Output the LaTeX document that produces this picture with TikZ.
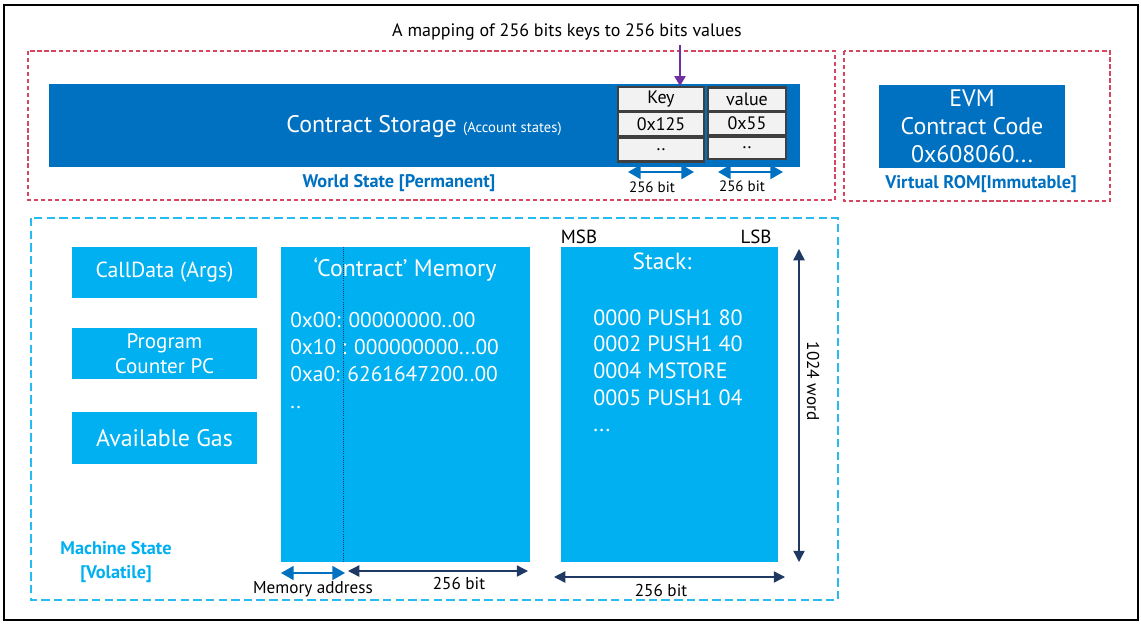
\documentclass[tikz,border=0pt]{standalone}
\usepackage{fontspec}
\setmainfont{PT Sans}
\usepackage{xcolor}
\usepackage{tikz}
\usetikzlibrary{arrows.meta,positioning}
\definecolor{blue2}{HTML}{0070C0}
\definecolor{cyan2}{HTML}{00B0F0}
\definecolor{navy2}{HTML}{1F3864}
\definecolor{red2}{HTML}{D6475F}
\definecolor{purple2}{HTML}{7030A0}
\definecolor{cellgray}{HTML}{F2F2F2}
\definecolor{cellline}{HTML}{3F3F3F}

\begin{document}
\begin{tikzpicture}[x=0.025cm,y=-0.025cm,
          every node/.style={font=\fontsize{12}{14}\selectfont},
          bigbox/.style={fill=blue2,text=white,inner sep=0pt},
          mbox/.style={fill=cyan2,text=white,inner sep=0pt,minimum width=4.625cm,
                       minimum height=1.275cm,align=center},
          cell/.style={draw=cellline,fill=cellgray,line width=1.5pt,inner sep=0pt,
                       minimum height=0.6cm,font=\fontsize{12.8}{14}\selectfont},
          redframe/.style={draw=red2,line width=0.8pt,dash pattern=on 3pt off 2pt},
          cyanframe/.style={draw=cyan2!85!white,line width=0.9pt,dash pattern=on 6pt off 3pt},
          bitarr/.style={{Triangle[length=9pt,width=10pt]}-{Triangle[length=9pt,width=10pt]},
                         draw=blue2,line width=1.4pt},
          navyarr/.style={{Triangle[length=8pt,width=8pt]}-{Triangle[length=8pt,width=8pt]},
                          draw=navy2,line width=1pt},
          small/.style={font=\fontsize{10.7}{12}\selectfont},
          lower/.style={font=\fontsize{12.2}{14}\selectfont},
          title/.style={font=\fontsize{13}{15}\selectfont\bfseries},
      ]
        \useasboundingbox (0,0) rectangle (1141,623);
        \draw[line width=2pt] (4,5) rectangle (1138,620);

        % world state and virtual ROM
        \draw[redframe] (28,51) rectangle (835,200);
        \draw[redframe] (844,51) rectangle (1110,201);
        \node[bigbox,minimum width=18.775cm,minimum height=2.075cm] (storage) at (424.5,125.5) {};
        \node[text=white,inner sep=0pt] (storagelbl) at (424,127)
          {\fontsize{17}{19}\selectfont Contract Storage \fontsize{10.4}{12}\selectfont(Account states)};
        \node[cell,minimum width=2.15cm] (key) at (661,99) {Key};
        \node[cell,minimum width=2.15cm] (keya) at (661,124) {0x125};
        \node[cell,minimum width=2.15cm] (keyb) at (661,149.5) {..};
        \node[cell,minimum width=1.95cm] (val) at (747,99.5) {value};
        \node[cell,minimum width=1.95cm] (vala) at (747,123.5) {0x55};
        \node[cell,minimum width=1.95cm,minimum height=0.55cm] (valb) at (747,148) {..};

        \node[font=\fontsize{12.8}{14}\selectfont] (mapping) at (567,32)
          {A mapping of 256 bits keys to 256 bits values};
        \coordinate (maptip) at (680,86);
        \draw[draw=purple2,line width=0.8pt,-{Triangle[length=7pt,width=8pt]}]
          (mapping.south -| maptip) -- (maptip);

        \coordinate (kl) at (628,172);
        \coordinate (kr) at (694,172);
        \coordinate (vl) at (718,172);
        \coordinate (vr) at (783,172);
        \draw[bitarr] (kl) -- (kr);
        \draw[bitarr] (vl) -- (vr);
        \node[small] (keybits) at (652,187) {256 bit};
        \node[small] (valbits) at (742,186) {256 bit};
        \node[title,text=blue2] (world) at (399,183) {World State [Permanent]};

        \node[bigbox,minimum width=4.65cm,minimum height=2.075cm,align=center,
              font=\fontsize{17}{19.8}\selectfont] (evm) at (972,126.5)
          {EVM\\Contract Code\\0x608060...};
        \node[title,text=blue2] (rom) at (981,184) {Virtual ROM[Immutable]};

        % machine state
        \draw[cyanframe] (31,218) rectangle (838,600);
        \node[mbox,font=\fontsize{15.5}{17}\selectfont] (calldata) at (164.5,272.5) {CallData (Args)};
        \node[mbox,font=\fontsize{15}{17.5}\selectfont] (pc) at (164.5,353.5) {Program\\Counter PC};
        \node[mbox,font=\fontsize{17}{19}\selectfont] (gas) at (164.5,438) {Available Gas};
        \node[title,text=cyan2,align=center,font=\fontsize{13}{17}\selectfont\bfseries] (machine)
          at (116,562) {Machine State\\{[Volatile]}};

        \node[fill=cyan2,inner sep=0pt,minimum width=6.225cm,minimum height=7.875cm] (memory)
          at (405.5,404.5) {};
        \node[text=white,font=\fontsize{17}{19}\selectfont] (memtitle) at (405,270)
          {‘Contract’ Memory};
        \node[text=white,anchor=north west,align=left,inner sep=0pt,
              font=\fontsize{15.2}{19.2}\selectfont] (memlines) at (290,312)
          {0x00: 00000000..00\\0x10 : 000000000...00\\0xa0: 6261647200..00\\..};
        \draw[navy2,densely dotted,line width=0.5pt] (memory.north -| 343,0) -- (memory.south -| 343,0);
        \coordinate (al) at (281,573);
        \coordinate (ar) at (345,573);
        \coordinate (ml) at (348,571);
        \coordinate (mr) at (528,571);
        \draw[bitarr,line width=1pt] (al) -- (ar);
        \draw[navyarr] (ml) -- (mr);
        \node[lower] (addr) at (313,589) {Memory address};
        \node[lower] (membits) at (459,583) {256 bit};

        \node[fill=cyan2,inner sep=0pt,minimum width=5.425cm,minimum height=7.875cm] (stack)
          at (669.5,404.5) {};
        \node[text=white,font=\fontsize{16.6}{18}\selectfont] (stacktitle) at (662,261) {Stack:};
        \node[text=white,anchor=north west,align=left,inner sep=0pt,
              font=\fontsize{15.7}{19}\selectfont] (stacklines) at (593,309)
          {0000 PUSH1 80\\0002 PUSH1 40\\0004 MSTORE\\0005 PUSH1 04\\...};
        \node[font=\fontsize{13.5}{15}\selectfont] (msb) at (579,237) {MSB};
        \node[font=\fontsize{13.5}{15}\selectfont] (lsb) at (756,237) {LSB};
        \coordinate (wt) at (799,249);
        \coordinate (wb) at (799,562);
        \draw[navyarr] (wt) -- (wb);
        \node[font=\fontsize{12.2}{14}\selectfont,rotate=-90] (words) at (813,381) {1024 word};
        \coordinate (sl) at (554,577);
        \coordinate (sr) at (785,577);
        \draw[navyarr] (sl) -- (sr);
        \node[lower] (stackbits) at (661,590) {256 bit};
      \end{tikzpicture}
\end{document}
